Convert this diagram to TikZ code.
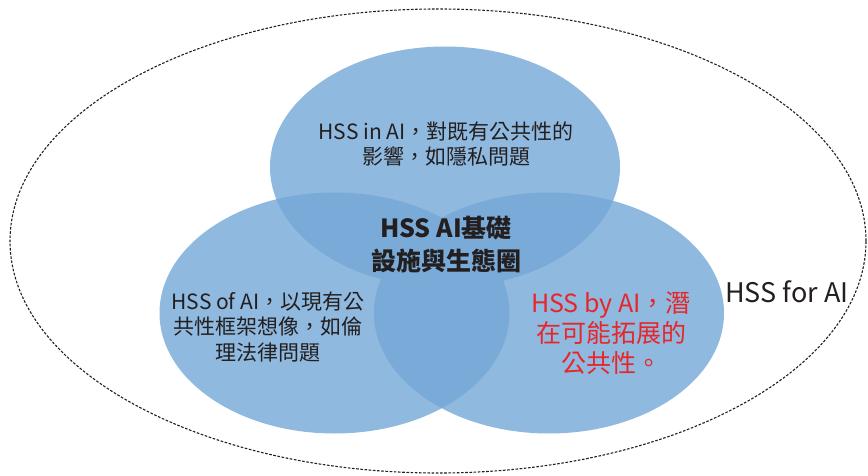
\documentclass[tikz,border=0pt]{standalone}
\usepackage{fontspec}
\setmainfont{Noto Sans CJK TC}
\definecolor{vsingle}{HTML}{8FB9DF}
\definecolor{vdouble}{HTML}{7AAAD7}
\definecolor{vred}{HTML}{E8262A}
\definecolor{vtext}{HTML}{231F20}
\begin{document}
\begin{tikzpicture}[x=1pt,y=-1pt,
  txt/.style={align=center, text=vtext, inner sep=0pt},
  outerline/.style={draw=vtext, line width=1.1pt, dash pattern=on 2.6pt off 1.6pt},
  circ/.style={x radius=175pt, y radius=120.5pt}]
\useasboundingbox (0,0) rectangle (868,476);
\coordinate (cT) at (445,167);
\coordinate (cL) at (334.5,313);
\coordinate (cR) at (549,313);
\coordinate (cO) at (438,241);
% outer dashed ellipse
\draw[outerline] (cO) ellipse [x radius=428pt, y radius=232pt];
% single fills
\fill[vsingle] (cT) ellipse [circ];
\fill[vsingle] (cL) ellipse [circ];
\fill[vsingle] (cR) ellipse [circ];
% overlaps
\begin{scope}
  \clip (cT) ellipse [circ];
  \fill[vdouble] (cL) ellipse [circ];
  \fill[vdouble] (cR) ellipse [circ];
\end{scope}
\begin{scope}
  \clip (cL) ellipse [circ];
  \fill[vdouble] (cR) ellipse [circ];
\end{scope}
% texts
\node[txt, font=\fontsize{21}{25}\selectfont] (tin) at (446,144)
  {HSS in AI，對既有公共性的\\影響，如隱私問題};
\node[txt, font=\fontsize{25}{33}\selectfont\bfseries] (tcore) at (446,245)
  {HSS AI基礎\\設施與生態圈};
\node[txt, font=\fontsize{21}{25.5}\selectfont] (tof) at (268,327)
  {HSS of AI，以現有公\\共性框架想像，如倫\\理法律問題};
\node[txt, text=vred, font=\fontsize{25}{30}\selectfont] (tby) at (611,333)
  {HSS by AI，潛\\在可能拓展的\\公共性。};
\node[txt, font=\fontsize{27}{30}\selectfont, anchor=west] (tfor) at (725,292)
  {HSS for AI};
\end{tikzpicture}
\end{document}
